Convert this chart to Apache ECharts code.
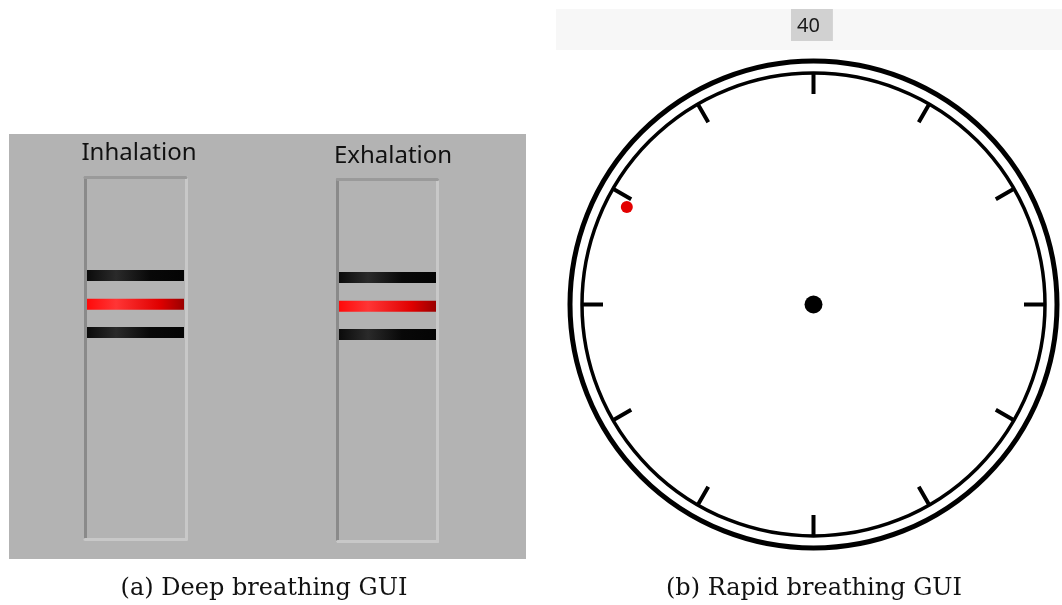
<!DOCTYPE html>
<html><head><meta charset="utf-8">
<script src="https://cdn.jsdelivr.net/npm/echarts@6/dist/echarts.min.js"></script>
<style>html,body{margin:0;padding:0;background:#fff}#c{width:1062px;height:605px}</style>
</head><body><div id="c"></div>
<script>
// ---- data ----
const columnLabels = ['Inhalation', 'Exhalation'];
const upperLimit   = [72.9, 72.9];   // upper black guide bar (% of column height)
const currentLevel = [65.0, 65.0];   // red indicator bar
const lowerLimit   = [57.2, 57.2];   // lower black guide bar
const dialUnits    = 60;             // full turn of the dial
const dialTicks    = 12;             // ticks around the dial
const pacerAngle   = [49.6];         // red pacer dot position (dial units)
const pacerRadius  = [0.91];         // red pacer dot radius (fraction of inner ring)
const counterLabel = ['40'];
const captions     = ['(a) Deep breathing GUI', '(b) Rapid breathing GUI'];

// ---- layout ----
const colGrids = [
  {left: 85, top: 177.5, width: 101, height: 362},
  {left: 337.5, top: 179.5, width: 100, height: 362}
];
const labelPos = [{x: 139, y: 141}, {x: 393, y: 144}];
const dark = '#8a8a8a', darkTop = '#9a9a9a', light = '#c8c8c8';

const grid = [
  {left: 9, top: 134, width: 517, height: 425, show: true, backgroundColor: '#b3b3b3', borderWidth: 0},
  colGrids[0], colGrids[1],
  {left: 556, top: 9, width: 506, height: 41, show: true, backgroundColor: '#f7f7f7', borderWidth: 0}
];
const hiddenAxis = (gi) => ({gridIndex: gi, show: false, type: 'value', min: 0, max: 1});
const xAxis = [hiddenAxis(0)];
const yAxis = [hiddenAxis(0)];
const edge = (color) => ({show: true, onZero: false, lineStyle: {color: color, width: 3}});
const off = {axisTick: {show: false}, axisLabel: {show: false}, splitLine: {show: false}};
columnLabels.forEach((lab, i) => {
  const gi = i + 1;
  xAxis.push(Object.assign({gridIndex: gi, type: 'category', data: [lab], position: 'bottom', axisLine: edge(light)}, off));
  xAxis.push(Object.assign({gridIndex: gi, type: 'category', data: [lab], position: 'top', axisLine: edge(darkTop)}, off));
  yAxis.push(Object.assign({gridIndex: gi, type: 'value', min: 0, max: 100, position: 'left', axisLine: edge(dark)}, off));
  yAxis.push(Object.assign({gridIndex: gi, type: 'value', min: 0, max: 100, position: 'right', axisLine: edge(light)}, off));
});
xAxis.push(hiddenAxis(3));
yAxis.push(hiddenAxis(3));

const blackGrad = {type: 'linear', x: 0, y: 0, x2: 1, y2: 0, colorStops: [
  {offset: 0, color: '#0b0b0b'}, {offset: 0.3, color: '#2a2a2a'}, {offset: 0.65, color: '#080808'}, {offset: 1, color: '#040404'}]};
const redGrad = {type: 'linear', x: 0, y: 0, x2: 1, y2: 0, colorStops: [
  {offset: 0, color: '#ff0a0a'}, {offset: 0.3, color: '#ff3535'}, {offset: 0.75, color: '#e00000'}, {offset: 1, color: '#9a0000'}]};

const series = [];
columnLabels.forEach((lab, i) => {
  const xi = 1 + i * 2, yi = 1 + i * 2;
  series.push({type: 'scatter', xAxisIndex: xi, yAxisIndex: yi, symbol: 'rect', symbolSize: [97, 11],
    data: [[0, upperLimit[i]], [0, lowerLimit[i]]], itemStyle: {color: blackGrad, opacity: 1}, silent: true});
  series.push({type: 'scatter', xAxisIndex: xi, yAxisIndex: yi, symbol: 'rect', symbolSize: [97, 11],
    data: [[0, currentLevel[i]]], itemStyle: {color: redGrad, opacity: 1}, silent: true});
});
series.push({type: 'scatter', coordinateSystem: 'polar', polarIndex: 1, data: [[0, 0]], symbolSize: 18,
  itemStyle: {color: '#000', opacity: 1}, silent: true});
series.push({type: 'scatter', coordinateSystem: 'polar', polarIndex: 1,
  data: pacerAngle.map((a, k) => [pacerRadius[k], a]), symbolSize: 12,
  itemStyle: {color: '#e30000', opacity: 1}, silent: true});

const dialCenter = [813.5, 304.5];
const option = {
  animation: false,
  backgroundColor: '#ffffff',
  title: [
    ...columnLabels.map((t, i) => ({text: t, left: labelPos[i].x, top: labelPos[i].y, textAlign: 'center', padding: 0,
      textStyle: {fontFamily: 'Noto Sans', fontSize: 24, fontWeight: 'normal', color: '#111'}})),
    {text: counterLabel[0], left: 791, top: 9, padding: [7, 13, 5, 6], backgroundColor: '#d1d1d1',
      borderColor: '#e4e4e4', borderWidth: 0,
      textStyle: {fontFamily: 'Noto Sans', fontSize: 20, fontWeight: 'normal', color: '#1a1a1a'}},
    {text: captions[0], left: 264, top: 577, textAlign: 'center', padding: 0,
      textStyle: {fontFamily: 'DejaVu Serif', fontSize: 24, fontWeight: 'normal', color: '#111'}},
    {text: captions[1], left: 814, top: 577, textAlign: 'center', padding: 0,
      textStyle: {fontFamily: 'DejaVu Serif', fontSize: 24, fontWeight: 'normal', color: '#111'}}
  ],
  grid: grid,
  xAxis: xAxis,
  yAxis: yAxis,
  polar: [{center: dialCenter, radius: 243.5}, {center: dialCenter, radius: 231.5}],
  angleAxis: [
    {polarIndex: 0, type: 'value', min: 0, max: dialUnits, startAngle: 90, clockwise: true,
      axisLine: {lineStyle: {color: '#000', width: 5}}, axisTick: {show: false}, axisLabel: {show: false}, splitLine: {show: false}},
    {polarIndex: 1, type: 'value', min: 0, max: dialUnits, interval: dialUnits / dialTicks, startAngle: 90, clockwise: true,
      axisLine: {lineStyle: {color: '#000', width: 3.5}},
      axisTick: {show: true, inside: true, length: 21, lineStyle: {color: '#000', width: 4}},
      axisLabel: {show: false}, splitLine: {show: false}}
  ],
  radiusAxis: [
    {polarIndex: 0, min: 0, max: 1, show: false},
    {polarIndex: 1, min: 0, max: 1, show: false}
  ],
  series: series
};
const chart = echarts.init(document.getElementById('c'), null, {renderer: 'canvas'});
chart.setOption(option);
</script>
</body></html>
